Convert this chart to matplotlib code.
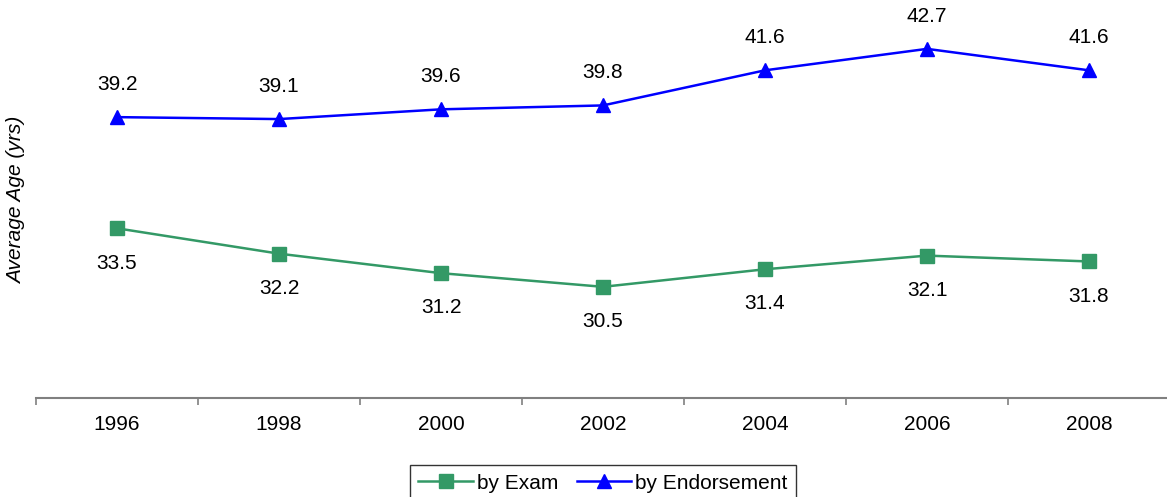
import numpy as np
import matplotlib.pyplot as plt

years = ['1996', '1998', '2000', '2002', '2004', '2006', '2008']
by_exam = [33.5, 32.2, 31.2, 30.5, 31.4, 32.1, 31.8]
by_endorsement = [39.2, 39.1, 39.6, 39.8, 41.6, 42.7, 41.6]

plt.rcParams['font.family'] = ['Liberation Sans', 'DejaVu Sans']
FS = 15

fig = plt.figure(figsize=(11.67, 4.97), dpi=100)
W, H = 1167, 497
ax = fig.add_axes([36 / W, (H - 398) / H, 1134 / W, 394 / H])

x = np.arange(len(years))
ax.plot(x, by_exam, color='#339966', lw=1.8, marker='s', ms=10, label='by Exam')
ax.plot(x, by_endorsement, color='#0000ff', lw=1.8, marker='^', ms=10, label='by Endorsement')

for xi, v in zip(x, by_exam):
    ax.annotate('%.1f' % v, (xi, v), xytext=(0, -25), textcoords='offset points',
                ha='center', va='center', fontsize=FS)
for xi, v in zip(x, by_endorsement):
    ax.annotate('%.1f' % v, (xi, v), xytext=(0, 23.5), textcoords='offset points',
                ha='center', va='center', fontsize=FS)

ax.set_xlim(-0.5, len(years) - 0.5)
ax.set_ylim(24.8, 45.0)
ax.set_xticks(x)
ax.set_xticklabels(years, fontsize=FS)
ax.set_xticks(np.arange(-0.5, len(years)), minor=True)
ax.tick_params(axis='x', which='major', length=0, pad=12)
ax.tick_params(axis='x', which='minor', length=5, direction='out', color='#808080', width=1.2)
ax.set_yticks([])
for s in ['top', 'right', 'left']:
    ax.spines[s].set_visible(False)
ax.spines['bottom'].set_color('#808080')
ax.spines['bottom'].set_linewidth(1.5)

fig.text(17 / W, (H - 200) / H, 'Average Age (yrs)', rotation=90, style='italic',
         fontsize=FS, ha='center', va='center')

leg = fig.legend(loc='lower center', bbox_to_anchor=(603 / W, -0.008), ncol=2,
                 fontsize=FS, frameon=True, fancybox=False, edgecolor='black',
                 handlelength=2.6, handletextpad=0.2, columnspacing=0.9,
                 borderpad=0.4, borderaxespad=0)
leg.get_frame().set_linewidth(1.0)

fig.savefig('out.png', dpi=100)
